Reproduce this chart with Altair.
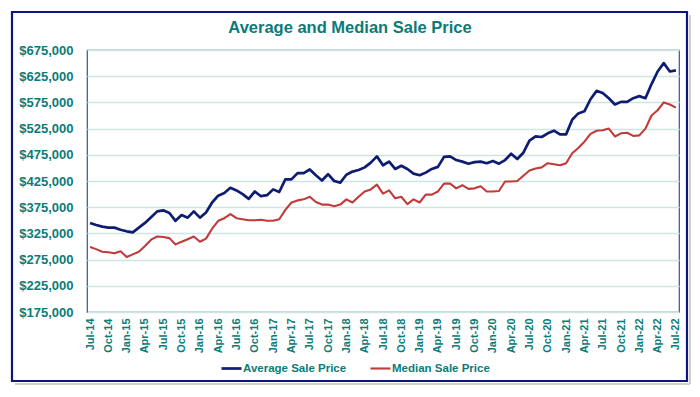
import altair as alt
import pandas as pd

MONTH_NAMES = ["Jan", "Feb", "Mar", "Apr", "May", "Jun",
               "Jul", "Aug", "Sep", "Oct", "Nov", "Dec"]
# Monthly categories Jul-14 .. Jul-22
months = [f"{MONTH_NAMES[(6 + i) % 12]}-{14 + (6 + i) // 12:02d}" for i in range(97)]
x_tick_labels = months[::3]

average_price = [345, 341, 338, 336, 336, 332, 329, 327, 336, 345,
                 356, 367, 369, 364, 349, 360, 355, 367, 355, 365,
                 384, 397, 402, 412, 407, 400, 391, 405, 396, 398,
                 409, 404, 428, 428, 440, 440, 447, 436, 426, 438,
                 425, 422, 437, 443, 446, 451, 460, 472, 455, 462,
                 448, 454, 448, 439, 436, 441, 448, 452, 471, 472,
                 465, 462, 458, 461, 462, 459, 463, 458, 465, 477,
                 467, 479, 502, 510, 509, 516, 521, 514, 514, 542,
                 554, 558, 581, 597, 593, 583, 571, 576, 576, 583,
                 587, 583, 610, 634, 650, 634, 636]
median_price = [299, 295, 290, 289, 287, 291, 280, 285, 290, 301,
                313, 319, 318, 316, 304, 309, 314, 319, 309, 315,
                334, 349, 354, 362, 354, 352, 350, 350, 351, 349,
                349, 352, 370, 384, 388, 390, 395, 385, 380, 380,
                377, 380, 390, 384, 395, 405, 409, 418, 401, 407,
                392, 395, 381, 390, 384, 399, 399, 405, 420, 420,
                411, 417, 410, 411, 415, 405, 405, 406, 424, 424,
                425, 435, 445, 449, 451, 459, 457, 455, 459, 478,
                488, 500, 515, 521, 522, 525, 510, 516, 517, 511,
                512, 525, 550, 560, 575, 571, 565]

y_ticks = [175000, 225000, 275000, 325000, 375000, 425000,
           475000, 525000, 575000, 625000, 675000]
series_names = ["Average Sale Price", "Median Sale Price"]
series_colors = ["#0e1d72", "#c23a3a"]
series_widths = [2.7, 2.1]
title_text = "Average and Median Sale Price"

TEAL = "#0b7b77"
FONT = "Liberation Sans"

n = len(months)
df = pd.DataFrame({
    "Month": months * 2,
    "Price": [v * 1000 for v in average_price] + [v * 1000 for v in median_price],
    "Series": [series_names[0]] * n + [series_names[1]] * n,
})

lines = alt.Chart(df).mark_line(strokeJoin="round").encode(
    x=alt.X("Month:O", sort=months, title=None,
            axis=alt.Axis(values=x_tick_labels, labelAngle=270, labelFont=FONT,
                          labelFontSize=11, labelFontWeight="bold", labelColor=TEAL,
                          labelPadding=6, ticks=False, domain=False, grid=False)),
    y=alt.Y("Price:Q", title=None,
            scale=alt.Scale(domain=[175000, 675000], nice=False, zero=False),
            axis=alt.Axis(values=y_ticks, format="$,.0f", labelFont=FONT,
                          labelFontSize=13, labelFontWeight="bold", labelColor=TEAL,
                          labelPadding=14, ticks=False, domain=False, grid=True,
                          gridColor="#cfe5e2", gridWidth=1.6)),
    color=alt.Color("Series:N",
                    scale=alt.Scale(domain=series_names, range=series_colors),
                    legend=alt.Legend(title=None, orient="none", legendX=133, legendY=307,
                                      direction="horizontal", symbolType="stroke",
                                      symbolSize=400, symbolStrokeWidth=3,
                                      labelFont=FONT, labelFontSize=11.5,
                                      labelFontWeight="bold", labelColor=TEAL,
                                      labelOffset=0, columnPadding=19, padding=0)),
    strokeWidth=alt.StrokeWidth("Series:N",
                                scale=alt.Scale(domain=series_names, range=series_widths),
                                legend=None),
)

one = alt.Data(values=[{}])

shadow_v = alt.Chart(one).mark_rule(color="#d6d0c4", strokeWidth=2).encode(
    x=alt.value(603), y=alt.value(-35), y2=alt.value(334))
shadow_h = alt.Chart(one).mark_rule(color="#d6d0c4", strokeWidth=2).encode(
    x=alt.value(-72), x2=alt.value(603), y=alt.value(334))
frame = alt.Chart(one).mark_rect(filled=False, stroke="#0b1683", strokeWidth=2.2).encode(
    x=alt.value(-75), x2=alt.value(600), y=alt.value(-38), y2=alt.value(331))

title = alt.Chart(one).mark_text(
    text=title_text, font=FONT,
    fontSize=16.5, fontWeight="bold", color=TEAL, align="center", baseline="middle"
).encode(x=alt.value(263), y=alt.value(-22))

chart = alt.layer(shadow_v, shadow_h, frame, lines, title).properties(
    width=592, height=262, autosize="none",
    padding={"left": 79, "top": 42, "right": 12, "bottom": 76},
    background="white",
).configure_view(stroke="#2b5797", strokeWidth=1.2)

chart.save("out.html", embed_options={"renderer": "svg", "actions": False})
